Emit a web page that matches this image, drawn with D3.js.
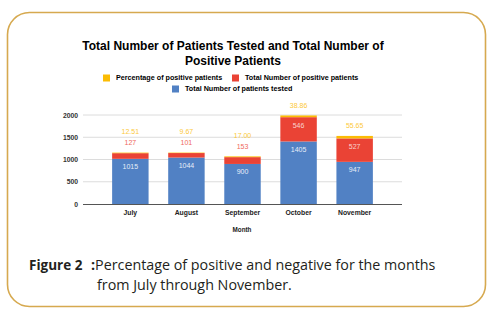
<!DOCTYPE html>
<html>
<head>
<meta charset="utf-8">
<script src="https://cdn.jsdelivr.net/npm/d3@7"></script>
<style>
  body { margin: 0; background: #fff; }
  svg text { font-family: "Liberation Sans", Arial, sans-serif; }
</style>
</head>
<body>
<div id="chart"></div>
<script>
// data
const months = ["July", "August", "September", "October", "November"];
const tested = [1015, 1044, 900, 1405, 947];
const positive = [127, 101, 153, 546, 527];
const percent = [12.51, 9.67, 17.00, 38.86, 55.65];
const yTicks = [0, 500, 1000, 1500, 2000];

const width = 495, height = 316;

const svg = d3.select("#chart").append("svg")
    .attr("width", width)
    .attr("height", height);

// gold frame
svg.append("rect")
    .attr("x", 7.5).attr("y", 12.5)
    .attr("width", 478).attr("height", 294)
    .attr("rx", 22).attr("ry", 22)
    .attr("fill", "#fff")
    .attr("stroke", "#d6a94f")
    .attr("stroke-width", 1.6);

// title
svg.append("text")
    .attr("x", 233).attr("y", 50)
    .attr("text-anchor", "middle")
    .style("font-size", "12px").style("font-weight", "bold")
    .text("Total Number of Patients Tested and Total Number of");
svg.append("text")
    .attr("x", 233).attr("y", 65)
    .attr("text-anchor", "middle")
    .style("font-size", "12px").style("font-weight", "bold")
    .text("Positive Patients");

const series = [
    { key: "tested", name: "Total Number of patients tested", color: "#5181c4", inside: "#e6edf8", outside: "#5181c4", values: tested },
    { key: "positive", name: "Total Number of positive patients", color: "#ea4335", inside: "#f9d3cf", outside: "#ef6a5e", values: positive },
    { key: "percent", name: "Percentage of positive patients", color: "#fbbc04", inside: "#fff", outside: "#fcc93a", values: percent }
];

// legend
const legendItems = [
    { s: series[2], x: 103, y: 78 },
    { s: series[1], x: 232, y: 78 },
    { s: series[0], x: 172, y: 89 }
];
legendItems.forEach(d => {
    svg.append("rect")
        .attr("x", d.x).attr("y", d.y - 3.5)
        .attr("width", 7).attr("height", 7)
        .attr("fill", d.s.color);
    svg.append("text")
        .attr("x", d.x + 13).attr("y", d.y + 2.4)
        .style("font-size", "7.2px").style("font-weight", "bold")
        .text(d.s.name);
});

// scales
const x = d3.scaleBand().domain(months).range([92.5, 392.5]).padding(0.35);
const y = d3.scaleLinear().domain([0, 2000]).range([204, 115]);

// grid
svg.append("g").selectAll("line")
    .data(yTicks.filter(t => t > 0))
    .join("line")
    .attr("x1", 83).attr("x2", 402)
    .attr("y1", d => y(d)).attr("y2", d => y(d))
    .attr("stroke", "#dcdcdc").attr("stroke-width", 1);

svg.append("g").selectAll("text")
    .data(yTicks)
    .join("text")
    .attr("x", 78).attr("y", d => y(d) + 2.5)
    .attr("text-anchor", "end")
    .style("font-size", "6.8px").style("font-weight", "bold").style("fill", "#333")
    .text(d => d);

// stacked bars
const rows = months.map((m, i) => ({ month: m, tested: tested[i], positive: positive[i], percent: percent[i] }));
const stack = d3.stack().keys(series.map(s => s.key))(rows);

stack.forEach((layer, li) => {
    const s = series[li];
    svg.append("g").selectAll("rect")
        .data(layer)
        .join("rect")
        .attr("x", d => x(d.data.month))
        .attr("width", x.bandwidth())
        .attr("y", d => y(d[1]))
        .attr("height", d => y(d[0]) - y(d[1]))
        .attr("fill", s.color);
});

// value labels: inside top if the segment is tall enough, else stacked above the bar
months.forEach((m, i) => {
    const top = y(stack[stack.length - 1][i][1]);
    let above = 0;
    stack.forEach((layer, li) => {
        const s = series[li];
        const seg = layer[i];
        const h = y(seg[0]) - y(seg[1]);
        let ly, col;
        if (h > 16) {
            ly = y(seg[1]) + 8;
            col = s.inside;
        } else {
            ly = top - 10 - above * 11;
            above++;
            col = s.outside;
        }
        svg.append("text")
            .attr("x", x(m) + x.bandwidth() / 2)
            .attr("y", ly + 2.5)
            .attr("text-anchor", "middle")
            .style("font-size", "7px")
            .style("fill", col)
            .text(s.key === "percent" ? seg.data.percent.toFixed(2) : seg.data[s.key]);
    });
});

// x axis
svg.append("line")
    .attr("x1", 83).attr("x2", 402)
    .attr("y1", y(0) + 0.5).attr("y2", y(0) + 0.5)
    .attr("stroke", "#555").attr("stroke-width", 1);

svg.append("g").selectAll("text")
    .data(months)
    .join("text")
    .attr("x", d => x(d) + x.bandwidth() / 2)
    .attr("y", 214.5)
    .attr("text-anchor", "middle")
    .style("font-size", "6.8px").style("font-weight", "bold").style("fill", "#222")
    .text(d => d);

svg.append("text")
    .attr("x", 242).attr("y", 231.5)
    .attr("text-anchor", "middle")
    .style("font-size", "6.3px").style("font-weight", "bold").style("fill", "#222")
    .text("Month");

// caption
const cap = svg.append("text")
    .attr("y", 270)
    .style("font-family", "'Open Sans', 'Noto Sans', sans-serif")
    .style("font-size", "14.3px").style("fill", "#231f20");
cap.append("tspan").attr("x", 29).style("font-weight", "bold").style("font-size", "13.5px").text("Figure 2");
cap.append("tspan").attr("x", 91).style("font-weight", "bold").text(":");
cap.append("tspan").text("Percentage of positive and negative for the months");
svg.append("text")
    .attr("x", 97).attr("y", 290)
    .style("font-family", "'Open Sans', 'Noto Sans', sans-serif")
    .style("font-size", "14.3px").style("fill", "#231f20")
    .text("from July through November.");
</script>
</body>
</html>
